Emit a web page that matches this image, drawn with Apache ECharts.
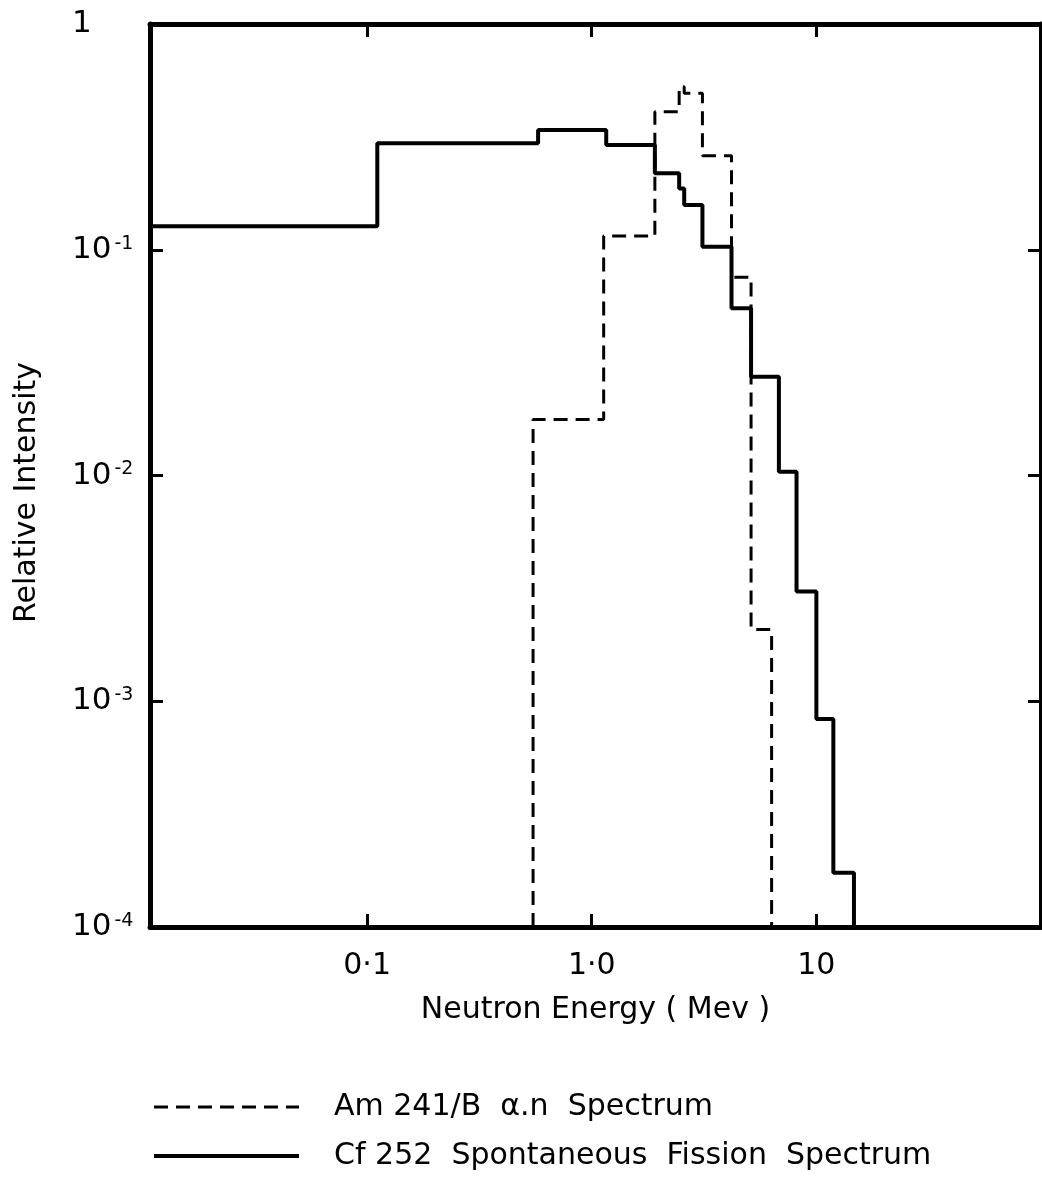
<!DOCTYPE html>
<html>
<head>
<meta charset="utf-8">
<script src="https://cdn.jsdelivr.net/npm/echarts@6.0.0/dist/echarts.min.js"></script>
<style>
  html, body { margin: 0; padding: 0; background: #fff; }
  #chart { width: 1042px; height: 1177px; }
</style>
</head>
<body>
<div id="chart"></div>
<script>
// Cf 252 spontaneous fission spectrum (solid): bin edges (MeV) and relative intensity per bin
const cfEdges = [0.0108, 0.111, 0.577, 1.16, 1.91, 2.45, 2.58, 3.11, 4.19, 5.12, 6.81, 8.16, 10.0, 11.9, 14.7];
const cfValues = [0.127, 0.296, 0.339, 0.291, 0.218, 0.187, 0.158, 0.103, 0.055, 0.0274, 0.0104, 0.00306, 0.000834, 0.000174];

// Am 241/B alpha,n spectrum (dashed)
const amEdges = [0.548, 1.13, 1.91, 2.45, 2.58, 3.11, 4.19, 5.12, 6.32];
const amValues = [0.0177, 0.115, 0.409, 0.527, 0.493, 0.261, 0.0755, 0.00208];

const xMin = 0.0108, xMax = 100;
const yMin = 1e-4, yMax = 1;
const xTickLabels = { '0.1': '0·1', '1': '1·0', '10': '10' };
const seriesNames = ['Am 241/B  α.n  Spectrum', 'Cf 252  Spontaneous  Fission  Spectrum'];

const FONT = 'DejaVu Sans';
const dashStyle = { color: '#000', width: 3, type: [14, 8] };
const solidStyle = { color: '#000', width: 4, type: 'solid' };

// turn bins into a step outline
function stepPoints(edges, values, fromFloor) {
    const pts = [];
    if (fromFloor) pts.push([edges[0], yMin]);
    values.forEach((v, i) => {
        pts.push([edges[i], v]);
        pts.push([edges[i + 1], v]);
    });
    pts.push([edges[edges.length - 1], yMin]);
    return pts;
}

function yLabel(v) {
    const e = Math.round(Math.log10(v));
    if (e === 0) return '{a|1}';
    return '{a|10}{s|' + e + '}';
}

function xLabel(v) {
    const key = String(Math.round(v * 1000) / 1000);
    return xTickLabels[key] || '';
}

const frameLine = { show: true, lineStyle: { color: '#000', width: 5 } };
const tick = { show: true, inside: true, length: 13, lineStyle: { color: '#000', width: 3 } };

const chart = echarts.init(document.getElementById('chart'), null, { renderer: 'canvas' });

chart.setOption({
    animation: false,
    backgroundColor: '#fff',
    textStyle: { fontFamily: FONT },
    grid: { left: 150, right: 1, top: 24, bottom: 250, containLabel: false },
    legend: {
        orient: 'vertical',
        left: 147,
        top: 1087,
        itemWidth: 145,
        itemHeight: 14,
        itemGap: 19,
        selectedMode: false,
        itemStyle: { opacity: 0 },
        data: [
            { name: seriesNames[0], lineStyle: dashStyle },
            { name: seriesNames[1], lineStyle: solidStyle }
        ],
        textStyle: { fontFamily: FONT, fontSize: 30, color: '#000', padding: [0, 0, 0, 30] }
    },
    xAxis: [{
        type: 'log',
        min: xMin,
        max: xMax,
        position: 'bottom',
        axisLine: frameLine,
        axisTick: tick,
        splitLine: { show: false },
        minorTick: { show: false },
        axisLabel: {
            margin: 24,
            fontSize: 30,
            fontFamily: FONT,
            color: '#000',
            showMinLabel: false,
            showMaxLabel: false,
            formatter: xLabel
        },
        name: 'Neutron Energy ( Mev )',
        nameLocation: 'middle',
        nameGap: 68,
        nameTextStyle: { fontSize: 30, fontFamily: FONT, color: '#000' }
    }, {
        type: 'log',
        min: xMin,
        max: xMax,
        position: 'top',
        axisLine: frameLine,
        axisTick: tick,
        axisLabel: { show: false },
        splitLine: { show: false }
    }],
    yAxis: [{
        type: 'log',
        min: yMin,
        max: yMax,
        position: 'left',
        axisLine: frameLine,
        axisTick: tick,
        splitLine: { show: false },
        axisLabel: {
            margin: 78,
            align: 'left',
            color: '#000',
            formatter: yLabel,
            rich: {
                a: { fontSize: 31, fontFamily: FONT, color: '#000' },
                s: { fontSize: 19, fontFamily: FONT, color: '#000', verticalAlign: 'top', padding: [0, 0, 0, 3] }
            }
        },
        name: 'Relative Intensity',
        nameLocation: 'middle',
        nameGap: 108,
        nameRotate: 90,
        nameTextStyle: { fontSize: 30, fontFamily: FONT, color: '#000', padding: [0, 0, 0, -34] }
    }, {
        type: 'log',
        min: yMin,
        max: yMax,
        position: 'right',
        axisLine: frameLine,
        axisTick: tick,
        axisLabel: { show: false },
        splitLine: { show: false }
    }],
    series: [{
        name: seriesNames[0],
        type: 'line',
        xAxisIndex: 0,
        yAxisIndex: 0,
        symbol: 'none',
        silent: true,
        lineStyle: dashStyle,
        itemStyle: { color: '#000' },
        data: stepPoints(amEdges, amValues, true)
    }, {
        name: seriesNames[1],
        type: 'line',
        xAxisIndex: 0,
        yAxisIndex: 0,
        symbol: 'none',
        silent: true,
        lineStyle: solidStyle,
        itemStyle: { color: '#000' },
        data: stepPoints(cfEdges, cfValues, false)
    }]
});
</script>
</body>
</html>
